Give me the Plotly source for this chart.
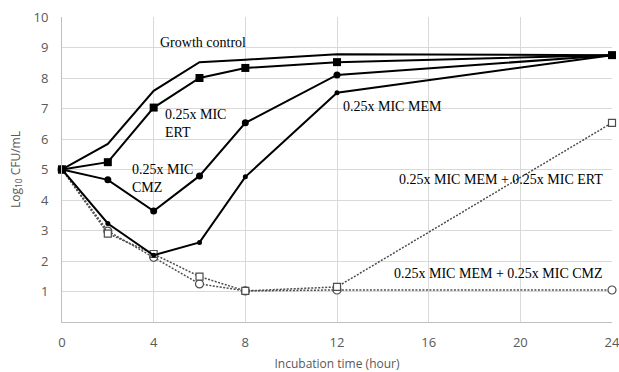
import plotly.graph_objects as go

hours = [0, 2, 4, 6, 8, 12, 24]
growth_control = [5.0, 5.84, 7.58, 8.52, 8.6, 8.78, 8.75]
mic_ert = [5.0, 5.24, 7.03, 8.0, 8.33, 8.52, 8.75]
mic_cmz = [5.0, 4.66, 3.64, 4.79, 6.53, 8.1, 8.75]
mic_mem = [5.0, 3.23, 2.19, 2.61, 4.76, 7.52, 8.75]
mem_ert = [5.0, 2.9, 2.23, 1.49, 1.02, 1.15, 6.53]
mem_cmz = [5.0, 2.98, 2.12, 1.25, 1.02, 1.05, 1.05]

x_ticks = [0, 4, 8, 12, 16, 20, 24]
y_ticks = [1, 2, 3, 4, 5, 6, 7, 8, 9, 10]

fig = go.Figure()

dot = "2px,1.5px"
fig.add_trace(go.Scatter(x=hours, y=mem_cmz, mode="lines+markers",
    line=dict(color="#4d4d4d", width=1.5, dash=dot),
    marker=dict(symbol="circle", size=8, color="white", line=dict(color="#4d4d4d", width=1.2)),
    name="0.25x MIC MEM + 0.25x MIC CMZ", cliponaxis=False))
fig.add_trace(go.Scatter(x=hours, y=mem_ert, mode="lines+markers",
    line=dict(color="#4d4d4d", width=1.5, dash=dot),
    marker=dict(symbol="square", size=7, color="white", line=dict(color="#4d4d4d", width=1.2)),
    name="0.25x MIC MEM + 0.25x MIC ERT", cliponaxis=False))
fig.add_trace(go.Scatter(x=hours, y=growth_control, mode="lines",
    line=dict(color="black", width=2), name="Growth control", cliponaxis=False))
fig.add_trace(go.Scatter(x=hours, y=mic_ert, mode="lines+markers",
    line=dict(color="black", width=2),
    marker=dict(symbol="square", size=8, color="black"), name="0.25x MIC ERT", cliponaxis=False))
fig.add_trace(go.Scatter(x=hours, y=mic_cmz, mode="lines+markers",
    line=dict(color="black", width=2),
    marker=dict(symbol="circle", size=7, color="black"), name="0.25x MIC CMZ", cliponaxis=False))
fig.add_trace(go.Scatter(x=hours, y=mic_mem, mode="lines+markers",
    line=dict(color="black", width=2),
    marker=dict(symbol="circle", size=5, color="black"), name="0.25x MIC MEM", cliponaxis=False))

ann_font = dict(family="Liberation Serif", size=14, color="black")
anns = [
    dict(x=6.15, y=9.15, text="Growth control", xanchor="center"),
    dict(x=4.4, y=6.52, text="0.25x MIC<br>ERT", xanchor="left", align="left"),
    dict(x=2.97, y=4.69, text="0.25x MIC<br>CMZ", xanchor="left", align="left"),
    dict(x=12.17, y=7.08, text="0.25x MIC MEM", xanchor="left"),
    dict(x=23.7, y=4.66, text="0.25x MIC MEM + 0.25x MIC ERT", xanchor="right"),
    dict(x=23.7, y=1.6, text="0.25x MIC MEM + 0.25x MIC CMZ", xanchor="right"),
]
for a in anns:
    fig.add_annotation(xref="x", yref="y", showarrow=False, yanchor="middle",
                       font=ann_font, **a)

tick_font = dict(family="Open Sans", size=13, color="#595959")
fig.update_layout(
    width=619, height=372,
    margin=dict(l=62, r=7, t=17, b=50),
    paper_bgcolor="white", plot_bgcolor="white",
    showlegend=False,
    xaxis=dict(range=[0, 24], tickvals=x_ticks, ticktext=[str(v) for v in x_ticks],
               automargin=False, ticklabeloverflow="allow",
               showgrid=True, gridcolor="#d9d9d9", gridwidth=1,
               showline=True, linecolor="#bfbfbf", linewidth=1,
               zeroline=False, ticks="", tickfont=tick_font, ticklabelstandoff=8,
               title=dict(text="Incubation time (hour)", font=dict(family="Open Sans", size=12, color="#595959"), standoff=10)),
    yaxis=dict(range=[0, 10], tickvals=y_ticks, ticktext=[str(v) for v in y_ticks],
               automargin=False, ticklabeloverflow="allow",
               showgrid=True, gridcolor="#d9d9d9", gridwidth=1,
               showline=True, linecolor="#bfbfbf", linewidth=1,
               zeroline=False, ticks="", tickfont=tick_font, ticklabelstandoff=10,
               title=dict(text="Log<sub>10</sub> CFU/mL", font=dict(family="Open Sans", size=12, color="#595959"), standoff=10)),
)

fig.write_html("out.html", config={"displayModeBar": False},
               post_script="document.body.style.margin='0';document.body.style.overflow='hidden';")
